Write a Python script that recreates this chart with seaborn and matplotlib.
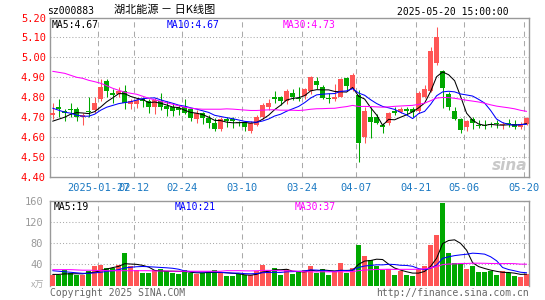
import numpy as np
import pandas as pd
import matplotlib
matplotlib.use("Agg")
import matplotlib.pyplot as plt
import seaborn as sns

# daily k-line data, 2025-01-15 .. 2025-05-20 (80 trading days)
opens = [4.71, 4.75, 4.73, 4.74, 4.74, 4.70, 4.73, 4.735, 4.79, 4.88,
         4.82, 4.815, 4.83, 4.765, 4.765, 4.79, 4.78, 4.75, 4.78, 4.755,
         4.75, 4.745, 4.75, 4.74, 4.69, 4.72, 4.695, 4.67, 4.64, 4.69,
         4.69, 4.675, 4.675, 4.63, 4.66, 4.70, 4.75, 4.80, 4.80, 4.78,
         4.82, 4.795, 4.805, 4.83, 4.88, 4.85, 4.795, 4.79, 4.80, 4.895,
         4.84, 4.81, 4.60, 4.70, 4.70, 4.66, 4.67, 4.73, 4.725, 4.74,
         4.74, 4.73, 4.80, 4.83, 4.97, 4.93, 4.815, 4.73, 4.69, 4.65,
         4.69, 4.66, 4.66, 4.665, 4.67, 4.66, 4.67, 4.665, 4.65, 4.665]
highs = [4.77, 4.79, 4.74, 4.77, 4.75, 4.72, 4.80, 4.80, 4.89, 4.89,
         4.84, 4.85, 4.86, 4.79, 4.795, 4.80, 4.79, 4.795, 4.82, 4.78,
         4.77, 4.76, 4.79, 4.745, 4.735, 4.725, 4.71, 4.695, 4.70, 4.70,
         4.70, 4.68, 4.68, 4.68, 4.71, 4.77, 4.79, 4.83, 4.805, 4.84,
         4.84, 4.85, 4.845, 4.905, 4.90, 4.86, 4.82, 4.865, 4.895, 4.90,
         4.92, 4.835, 4.75, 4.75, 4.715, 4.67, 4.725, 4.75, 4.75, 4.75,
         4.75, 4.83, 4.86, 5.05, 5.15, 4.935, 4.825, 4.75, 4.695, 4.685,
         4.70, 4.685, 4.685, 4.675, 4.685, 4.675, 4.69, 4.685, 4.675, 4.70]
lows = [4.69, 4.70, 4.68, 4.70, 4.68, 4.66, 4.70, 4.72, 4.78, 4.80,
        4.77, 4.80, 4.74, 4.74, 4.745, 4.75, 4.72, 4.715, 4.735, 4.705,
        4.705, 4.71, 4.715, 4.68, 4.67, 4.665, 4.645, 4.63, 4.63, 4.65,
        4.645, 4.655, 4.63, 4.62, 4.655, 4.69, 4.735, 4.77, 4.76, 4.765,
        4.785, 4.78, 4.79, 4.815, 4.84, 4.79, 4.77, 4.78, 4.80, 4.835,
        4.83, 4.475, 4.57, 4.595, 4.665, 4.62, 4.66, 4.71, 4.72, 4.71,
        4.70, 4.72, 4.795, 4.825, 4.96, 4.745, 4.735, 4.685, 4.62, 4.63,
        4.64, 4.645, 4.64, 4.65, 4.645, 4.64, 4.65, 4.64, 4.64, 4.66]
closes = [4.72, 4.74, 4.72, 4.735, 4.70, 4.71, 4.725, 4.77, 4.85, 4.83,
          4.81, 4.83, 4.77, 4.78, 4.785, 4.78, 4.75, 4.785, 4.75, 4.74,
          4.73, 4.735, 4.72, 4.695, 4.72, 4.695, 4.67, 4.64, 4.69, 4.68,
          4.68, 4.67, 4.65, 4.67, 4.70, 4.76, 4.77, 4.79, 4.78, 4.83,
          4.80, 4.79, 4.84, 4.90, 4.86, 4.795, 4.79, 4.80, 4.89, 4.855,
          4.91, 4.57, 4.73, 4.675, 4.67, 4.65, 4.72, 4.72, 4.74, 4.73,
          4.725, 4.82, 4.84, 5.03, 5.10, 4.845, 4.75, 4.69, 4.635, 4.68,
          4.67, 4.655, 4.655, 4.66, 4.665, 4.665, 4.665, 4.65, 4.665, 4.695]
volumes = [20.3, 19.0, 29.8, 23.5, 19.0, 19.0, 27.9, 36.2, 39.4, 33.0,
           33.0, 39.4, 61.6, 36.2, 29.8, 23.5, 23.5, 29.8, 31.8, 26.7,
           23.5, 21.6, 29.8, 23.5, 21.6, 23.5, 25.4, 29.8, 23.5, 18.4,
           18.4, 21.6, 19.0, 20.3, 26.7, 39.4, 29.8, 33.0, 20.3, 31.1,
           21.6, 25.4, 29.8, 37.5, 23.5, 31.1, 20.3, 25.4, 42.5, 23.5,
           33.0, 76.0, 56.5, 47.6, 36.0, 29.8, 31.8, 20.3, 27.9, 20.3,
           17.1, 31.8, 36.2, 76.2, 96.5, 155.6, 61.6, 42.5, 42.5, 31.8,
           37.5, 24.8, 24.8, 26.7, 20.3, 27.9, 23.5, 18.4, 15.2, 22.2]

ma5_head = [4.68, 4.69, 4.70, 4.715]
ma10_head = [4.745, 4.735, 4.725, 4.72, 4.71, 4.705, 4.705, 4.715, 4.735]
ma30_head = [4.93, 4.925, 4.92, 4.91, 4.90, 4.895, 4.885, 4.878, 4.87, 4.858,
             4.845, 4.835, 4.825, 4.82, 4.815, 4.805, 4.795, 4.787, 4.78, 4.772,
             4.765, 4.757, 4.75, 4.745, 4.742, 4.74, 4.74, 4.74, 4.74]
vma5_head = [21, 21, 22, 22]
vma10_head = [28, 27, 26, 25, 24, 23, 23, 24, 25]
vma30_head = [30, 30, 30, 30, 29.5, 29, 29, 28.5, 28.5, 28,
              28, 28, 28, 28, 28, 28, 28, 27.5, 27.5, 27.5,
              27, 27, 27, 27, 27, 27, 27, 27, 27]

tick_idx = [8, 14, 22, 32, 42, 51, 61, 69, 79]
tick_labels = ['2025-01-27', '02-12', '02-24', '03-10', '03-24',
               '04-07', '04-21', '05-06', '05-20']
price_ticks = [4.40, 4.50, 4.60, 4.70, 4.80, 4.90, 5.00, 5.10, 5.20]
vol_ticks = [40, 80, 120, 160]

df = pd.DataFrame({'open': opens, 'high': highs, 'low': lows,
                   'close': closes, 'vol': volumes})
df['idx'] = np.arange(len(df))


def moving_avg(s, n, head):
    m = s.rolling(n).mean()
    m.iloc[:n - 1] = head
    return m


df['ma5'] = moving_avg(df['close'], 5, ma5_head)
df['ma10'] = moving_avg(df['close'], 10, ma10_head)
df['ma30'] = moving_avg(df['close'], 30, ma30_head)
df['vma5'] = moving_avg(df['vol'], 5, vma5_head)
df['vma10'] = moving_avg(df['vol'], 10, vma10_head)
df['vma30'] = moving_avg(df['vol'], 30, vma30_head)

RED = '#ff5555'
GREEN = '#00a800'
GRID = '#aaaaaa'
SPINE = '#999999'
MONO = 'DejaVu Sans Mono'
LW = 0.75

sns.set_style('white')
plt.rcParams['font.family'] = ['DejaVu Sans Mono', 'Noto Sans CJK SC']

W, H = 545, 300
fig = plt.figure(figsize=(W / 100, H / 100), dpi=100)
ax = fig.add_axes([50 / W, 1 - 177 / H, 479 / W, (177 - 17.5) / H])
axv = fig.add_axes([50 / W, 1 - 285.5 / H, 479 / W, (285.5 - 201) / H])

up = df['close'] >= df['open']
colors = np.where(up, RED, GREEN)

# candles
ax.vlines(df['idx'], df['low'], df['high'], colors=colors, lw=LW, zorder=3)
body = np.maximum((df['close'] - df['open']).abs(), 0.004)
ax.bar(df['idx'], body, bottom=np.minimum(df['open'], df['close']),
       width=0.8, color=colors, linewidth=0, zorder=3)

sns.lineplot(data=df, x='idx', y='ma5', ax=ax, color='black', lw=LW, zorder=4)
sns.lineplot(data=df, x='idx', y='ma10', ax=ax, color='#0000ff', lw=LW, zorder=4)
sns.lineplot(data=df, x='idx', y='ma30', ax=ax, color='#ff00ff', lw=LW, zorder=4)

# volume
axv.bar(df['idx'], df['vol'], width=0.8, color=colors, linewidth=0, zorder=3)
sns.lineplot(data=df, x='idx', y='vma5', ax=axv, color='black', lw=LW, zorder=4)
sns.lineplot(data=df, x='idx', y='vma10', ax=axv, color='#0000ff', lw=LW, zorder=4)
sns.lineplot(data=df, x='idx', y='vma30', ax=axv, color='#ff00ff', lw=LW, zorder=4)

for a in (ax, axv):
    a.set_xlim(-0.45, 79.4)
    a.set_xlabel('')
    a.set_ylabel('')
    for t in tick_idx:
        a.axvline(t - 0.4, color=GRID, lw=LW, ls=(0, (5, 4)), zorder=1)
    for sp in a.spines.values():
        sp.set_color(SPINE)
        sp.set_linewidth(1)

ax.set_ylim(4.40, 5.20)
ax.set_yticks(price_ticks)
ax.set_yticklabels([f'{p:.2f}' for p in price_ticks], color='red',
                   fontsize=7.5, family=MONO)
for p in price_ticks[1:-1]:
    ax.axhline(p, color=GRID, lw=LW, ls=(0, (1, 2)), zorder=1)
ax.set_xticks([t - 0.4 for t in tick_idx])
ax.set_xticklabels(tick_labels, color='#1a78c2', fontsize=7.5, family=MONO)
ax.tick_params(length=0, pad=3)
ax.tick_params(axis='x', pad=4)

axv.set_ylim(0, 160)
axv.set_yticks(vol_ticks)
axv.set_yticklabels([str(v) for v in vol_ticks], color='#999999',
                    fontsize=7.5, family=MONO)
for v in vol_ticks[:-1]:
    axv.axhline(v, color=GRID, lw=LW, ls=(0, (1, 2)), zorder=1)
axv.set_xticks([])
axv.tick_params(length=0, pad=5)
axv.spines['bottom'].set_visible(False)


def ftext(x, y, s, **kw):
    fig.text(x / W, 1 - y / H, s, va='center', **kw)


ftext(47.5, 11, 'sz000883', fontsize=7, family=MONO, color='black')
ftext(114, 10, '湖北能源 － 日K线图', fontsize=8,
      family=['Noto Sans CJK SC', 'DejaVu Sans'], color='black')
ftext(509, 12, '2025-05-20 15:00:00', fontsize=7, family=MONO,
      color='black', ha='right')

ftext(52, 24.5, 'MA5:4.67', fontsize=7, family=MONO, color='black')
ftext(167, 24.5, 'MA10:4.67', fontsize=7, family=MONO, color='#0000ff')
ftext(283, 24.5, 'MA30:4.73', fontsize=7, family=MONO, color='#ff00ff')

ftext(54, 207.5, 'MA5:19', fontsize=7, family=MONO, color='black')
ftext(175, 207.5, 'MA10:21', fontsize=7, family=MONO, color='#0000ff')
ftext(295, 207.5, 'MA30:37', fontsize=7, family=MONO, color='#ff00ff')

ftext(44, 285, 'x万', fontsize=6.5, family=['Noto Sans CJK SC', 'DejaVu Sans'],
      color='#aaaaaa', ha='right')
ftext(50, 293.5, 'Copyright 2025 SINA.COM', fontsize=7, family=MONO, color='#666666')
ftext(529, 293.5, 'http://finance.sina.com.cn', fontsize=7, family=MONO,
      color='#666666', ha='right')
ftext(527, 165, 'sina', fontsize=11, family='DejaVu Sans', color='#c8c8c8',
      ha='right', style='italic', weight='bold')

fig.savefig('out.png', dpi=100)
